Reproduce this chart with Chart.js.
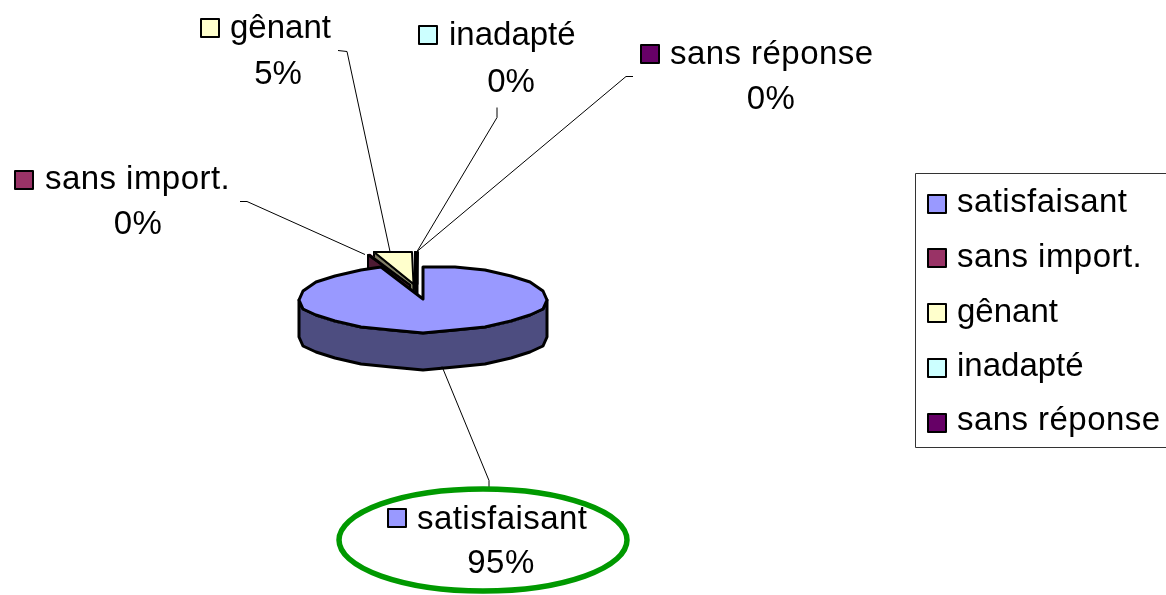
<!DOCTYPE html>
<html>
<head>
<meta charset="utf-8">
<title>Pie</title>
<script src="https://cdn.jsdelivr.net/npm/chart.js@4"></script>
<style>
    html, body { margin: 0; padding: 0; background: #fff; overflow: hidden; }
    canvas { display: block; }
</style>
</head>
<body>
<canvas id="pieChart" width="1166" height="595"></canvas>
<script>
const categories = ['satisfaisant', 'sans import.', 'gênant', 'inadapté', 'sans réponse'];
const shares = [94.5, 0.3, 5.0, 0.1, 0.1];

const topColors = ['#9999ff', '#993366', '#ffffcc', '#ccffff', '#660066'];
const sideColors = ['#4d4d80', '#4d1a33', '#808066', '#668080', '#330033'];

// pulled-out slices, screen pixels
const pullX = [0, -13, -9.5, -6, -5.5];
const pullY = [0, -14, -15, -15, -15];

const pie = { x: 423, y: 299, radius: 124, squash: 33 / 124, depth: 37 };
const fontSize = 33;
const textFont = fontSize + 'px "Liberation Sans", Arial, sans-serif';
const textSpacing = ['0.45px', '0.45px', '0px', '0px', '0.45px'];

// data labels: marker left, first line baseline, centre of the percent, percent baseline
const labelSpots = [
    { box: 388, boxY: 509, text: 417, base: 529, mid: 501, pctBase: 573 },
    { box: 15, boxY: 171, text: 45, base: 189, mid: 138, pctBase: 234 },
    { box: 201, boxY: 19, text: 230, base: 38, mid: 278, pctBase: 84 },
    { box: 419, boxY: 26, text: 449, base: 45, mid: 511, pctBase: 92 },
    { box: 641, boxY: 45, text: 670, base: 64, mid: 771, pctBase: 109 }
];

const leaderLines = [
    [[442, 366], [489, 480], [489, 487]],
    [[240, 201], [247, 201], [365, 254]],
    [[338, 50], [347, 51], [390, 251]],
    [[497, 107], [497, 117], [417, 251]],
    [[633, 76], [626, 76], [417, 251]]
];

const legendBox = { left: 915, top: 173, right: 1175, bottom: 447 };
const legendBoxTops = [195, 249, 304, 359, 414];
const legendBaselines = [212, 267, 322, 376, 430];

function rimPoint(i, angle, drop) {
    // y snapped to a 3px grid, the original rim is stepped like that
    const y = pie.y + pullY[i] + pie.radius * pie.squash * Math.sin(angle);
    return [
        Math.round(pie.x + pullX[i] + pie.radius * Math.cos(angle)),
        Math.round(y / 3) * 3 + (drop || 0)
    ];
}

// coarse polygon around the rim, the original has visible facets
function rimPath(i, from, to, drop) {
    const step = Math.PI / 12;
    const pts = [rimPoint(i, from, drop)];
    let a = Math.ceil(from / step + 0.001) * step;
    while (a < to) {
        pts.push(rimPoint(i, a, drop));
        a += step;
    }
    pts.push(rimPoint(i, to, drop));
    return pts;
}

function polygon(ctx, pts, fill) {
    ctx.beginPath();
    pts.forEach(function(p, n) {
        if (n === 0) ctx.moveTo(p[0], p[1]);
        else ctx.lineTo(p[0], p[1]);
    });
    ctx.closePath();
    if (fill) {
        ctx.fillStyle = fill;
        ctx.fill();
    }
    ctx.stroke();
}

function drawSlice(ctx, el, i) {
    const apex = [pie.x + pullX[i], pie.y + pullY[i]];
    ctx.strokeStyle = '#000';
    ctx.lineWidth = i === 0 ? 3 : 2;
    ctx.lineJoin = 'round';

    // outer wall, only the part facing us
    const wallFrom = Math.max(el.startAngle, 0);
    const wallTo = Math.min(el.endAngle, Math.PI);
    if (wallFrom < wallTo) {
        const front = rimPath(i, wallFrom, wallTo, 0);
        const back = rimPath(i, wallFrom, wallTo, pie.depth).reverse();
        polygon(ctx, front.concat(back), sideColors[i]);
    }

    // cut face on the left side of a pulled-out slice
    if (i > 0) {
        const rim = rimPoint(i, el.startAngle, 0);
        polygon(ctx, [apex, rim, [rim[0], rim[1] + pie.depth], [apex[0], apex[1] + pie.depth]], sideColors[i]);
    }

    // the top face is the library's own arc, flattened
    ctx.save();
    ctx.translate(apex[0], apex[1]);
    ctx.scale(1, pie.squash);
    ctx.translate(-el.x, -el.y);
    el.draw(ctx);
    ctx.restore();

    polygon(ctx, [apex].concat(rimPath(i, el.startAngle, el.endAngle, 0)));
}

function marker(ctx, x, y, color) {
    ctx.fillStyle = color;
    ctx.strokeStyle = '#000';
    ctx.lineWidth = 2;
    ctx.fillRect(x, y, 18, 18);
    ctx.strokeRect(x, y, 18, 18);
}

const pie3d = {
    id: 'pie3d',
    beforeDatasetDraw: function(chart, args) {
        const ctx = chart.ctx;
        const arcs = args.meta.data;
        // back to front, big slice last so it hides the feet of the others
        for (let i = arcs.length - 1; i >= 0; i--) {
            drawSlice(ctx, arcs[i], i);
        }
        return false;
    },
    afterDraw: function(chart) {
        const ctx = chart.ctx;
        const total = shares.reduce(function(a, b) { return a + b; }, 0);

        ctx.save();
        ctx.strokeStyle = '#000';
        ctx.lineWidth = 1;
        leaderLines.forEach(function(line) {
            ctx.beginPath();
            line.forEach(function(p, n) {
                if (n === 0) ctx.moveTo(p[0], p[1] + 0.5);
                else ctx.lineTo(p[0], p[1] + 0.5);
            });
            ctx.stroke();
        });

        // green ring somebody drew round the main label
        ctx.strokeStyle = '#009900';
        ctx.lineWidth = 5.5;
        ctx.beginPath();
        ctx.ellipse(483, 540, 144, 51, 0, 0, Math.PI * 2);
        ctx.stroke();

        ctx.font = textFont;
        ctx.textBaseline = 'alphabetic';

        categories.forEach(function(name, i) {
            const spot = labelSpots[i];
            marker(ctx, spot.box, spot.boxY, topColors[i]);
            ctx.fillStyle = '#000';
            ctx.letterSpacing = textSpacing[i];
            ctx.textAlign = 'left';
            ctx.fillText(name, spot.text, spot.base);
            ctx.textAlign = 'center';
            ctx.fillText(Math.round(shares[i] / total * 100) + '%', spot.mid, spot.pctBase);
        });

        // legend
        ctx.strokeStyle = '#333';
        ctx.lineWidth = 1;
        ctx.strokeRect(legendBox.left + 0.5, legendBox.top + 0.5,
            legendBox.right - legendBox.left, legendBox.bottom - legendBox.top);
        ctx.textAlign = 'left';
        categories.forEach(function(name, i) {
            marker(ctx, 928, legendBoxTops[i], topColors[i]);
            ctx.fillStyle = '#000';
            ctx.letterSpacing = textSpacing[i];
            ctx.fillText(name, 957, legendBaselines[i]);
        });
        ctx.restore();
    }
};

new Chart(document.getElementById('pieChart').getContext('2d'), {
    type: 'pie',
    data: {
        labels: categories,
        datasets: [{
            data: shares,
            backgroundColor: topColors,
            borderWidth: 0,
            radius: pie.radius
        }]
    },
    options: {
        responsive: false,
        animation: false,
        plugins: {
            legend: { display: false },
            tooltip: { enabled: false }
        }
    },
    plugins: [pie3d]
});
</script>
</body>
</html>
